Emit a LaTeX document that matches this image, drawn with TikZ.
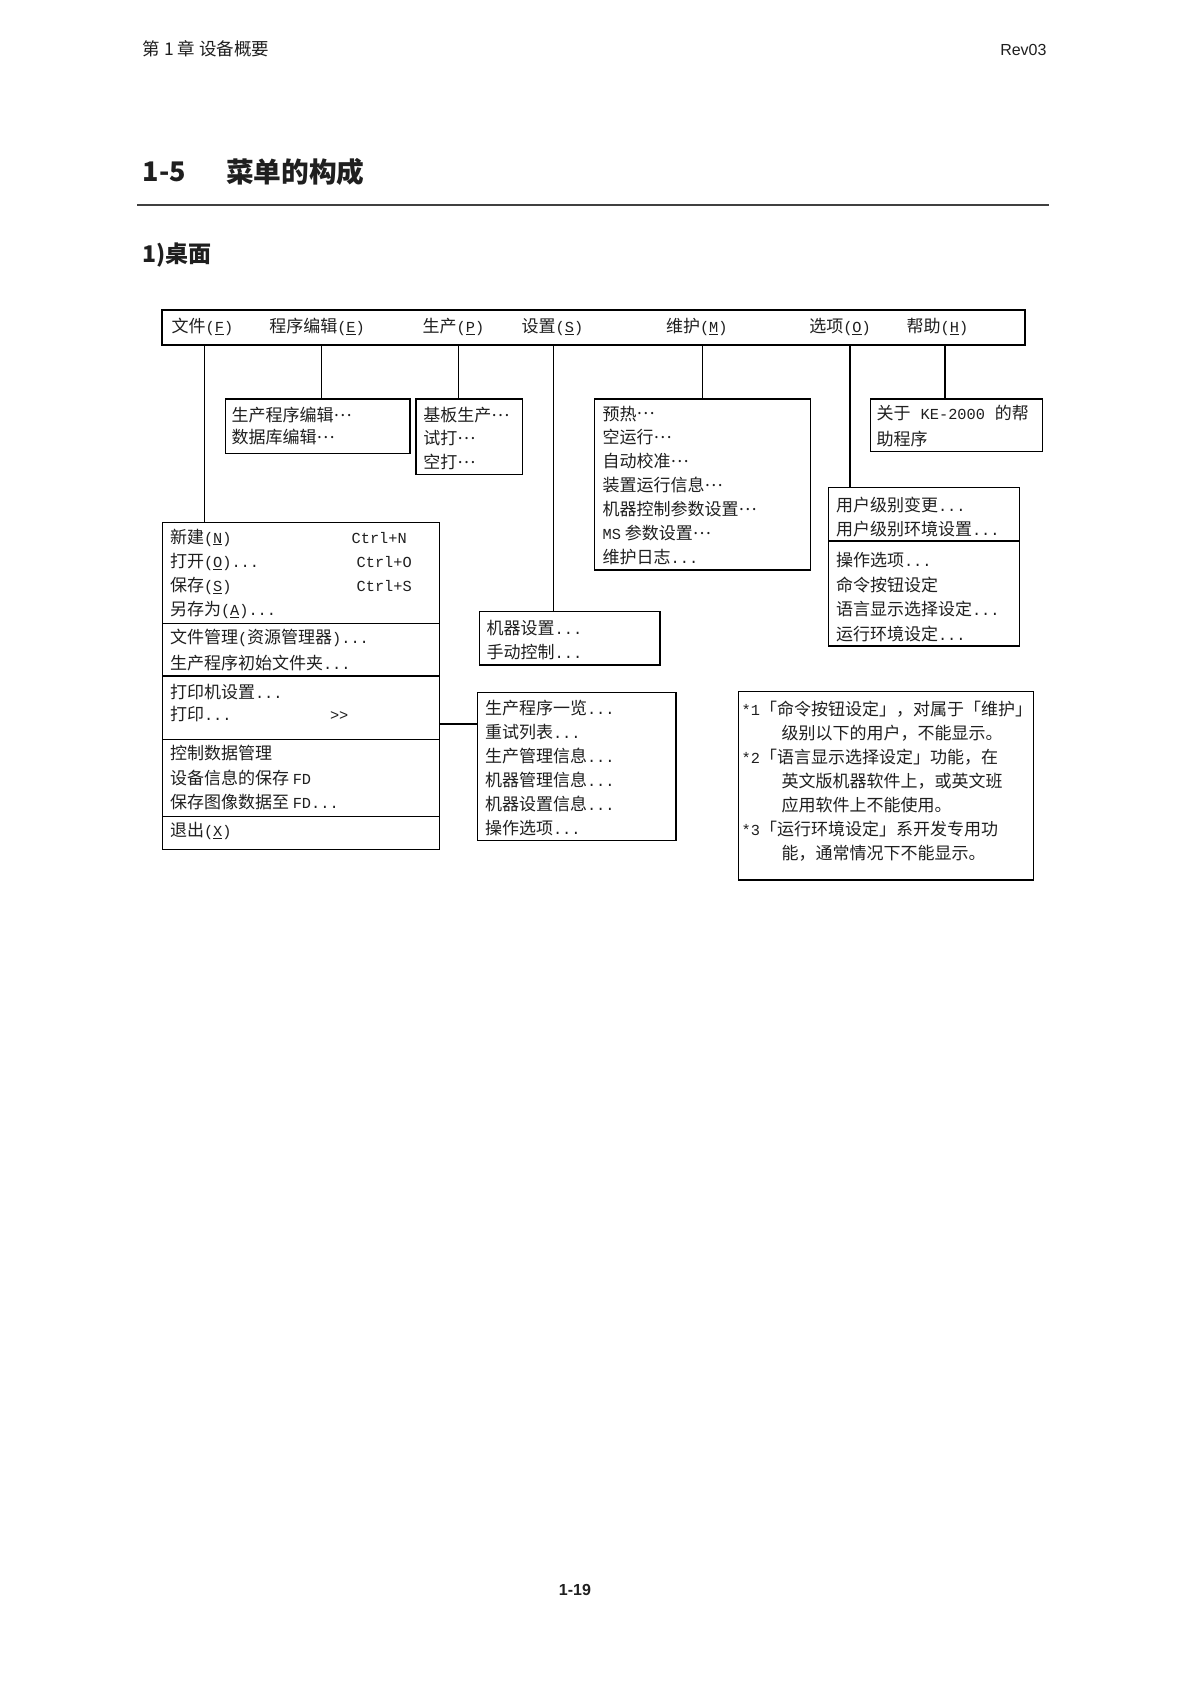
\documentclass[tikz,border=0pt]{standalone}
\usepackage{fontspec}
\setmainfont{Noto Sans CJK SC}
\newfontfamily\lat{Liberation Mono}[Scale=0.9]
\newfontfamily\hsans{Liberation Sans}
\newcommand\mydots{{\lat...}}
\newcommand\mell{\raisebox{0.3em}{…}}
\newcommand\mk[1]{{\lat(\underline{#1})}}
\begin{document}
\begin{tikzpicture}[x=1pt,y=-1pt,
  every node/.style={inner sep=0pt, outer sep=0pt},
  boxst/.style={draw=black, line width=1.3pt, anchor=north west},
  item/.style={anchor=west, font=\fontsize{17}{20}\selectfont, text height=15pt, text depth=2pt, text=black!88},
  conn/.style={draw=black, line width=1.3pt},
  divl/.style={draw=black, line width=1.3pt},
  hdr/.style={anchor=west, text=black!88},
]
\useasboundingbox[fill=white] (0,0) rectangle (1188,1681);

% ---------- page header ----------
\node[hdr, font=\fontsize{17.5}{20}\selectfont, text height=15pt, text depth=2pt] (hdrL) at (142.6,49.3) {第 1 章 设备概要};
\node[hdr, anchor=east, font=\hsans\fontsize{16}{20}\selectfont, text height=11.5pt, text depth=0pt] (hdrR) at (1046.5,49.3) {Rev03};
\node[hdr, font=\bfseries\fontsize{27}{30}\selectfont, text height=20pt, text depth=0pt] (ttlA) at (142.6,171.5) {1-5};
\node[hdr, font=\bfseries\fontsize{27.7}{30}\selectfont, text height=24pt, text depth=3pt] (ttlB) at (226,171.5) {菜单的构成};
\draw[line width=2.2pt, black!75] (137,204.8) -- (1048.6,204.8);
\node[hdr, font=\bfseries\fontsize{23}{26}\selectfont, text height=20pt, text depth=3pt] (sub) at (142.6,254) {1)桌面};
\node[font=\hsans\bfseries\fontsize{16}{20}\selectfont, text=black!88] (pg) at (575,1590) {1-19};

% ---------- menu bar ----------
\node[boxst, minimum width=863pt, minimum height=35pt] (bar) at (162,310) {};
\node[item] (mF) at (171.7,326) {文件\mk{F}};
\node[item] (mE) at (269.3,326) {程序编辑\mk{E}};
\node[item] (mP) at (422.7,326) {生产\mk{P}};
\node[item] (mS) at (521.7,326) {设置\mk{S}};
\node[item] (mM) at (666,326) {维护\mk{M}};
\node[item] (mO) at (809.3,326) {选项\mk{O}};
\node[item] (mH) at (906.7,326) {帮助\mk{H}};

% ---------- boxes ----------
\node[boxst, minimum width=184.5pt, minimum height=54.5pt] (edit) at (225.5,399) {};
\node[boxst, minimum width=106.5pt, minimum height=75.5pt] (prod) at (416,399) {};
\node[boxst, minimum width=216pt, minimum height=171pt] (maint) at (594.5,399) {};
\node[boxst, minimum width=172pt, minimum height=52.5pt] (help) at (870.5,399) {};
\node[boxst, minimum width=191pt, minimum height=158.5pt] (opt) at (828.5,487.5) {};
\node[boxst, minimum width=180.5pt, minimum height=53.3pt] (set) at (479.5,611.7) {};
\node[boxst, minimum width=277pt, minimum height=326.6pt] (file) at (162.3,522.7) {};
\node[boxst, minimum width=198.7pt, minimum height=148pt] (print) at (477.3,692.7) {};
\node[boxst, minimum width=295pt, minimum height=188.3pt] (note) at (738.3,691.7) {};

% dividers
\draw[divl] (828.5,541) -- (1019.5,541);
\foreach \yy in {623.3,676,739.3,816.7}
  \draw[divl] (162.3,\yy) -- (439.3,\yy);

% ---------- connectors ----------
\coordinate (dF) at (204.3,345);
\coordinate (dE) at (321.7,345);
\coordinate (dP) at (458.3,345);
\coordinate (dS) at (553.5,345);
\coordinate (dM) at (702.3,345);
\coordinate (dO) at (850,345);
\coordinate (dH) at (945,345);
\coordinate (pj) at (0,724);
\draw[conn] (dF) -- (dF |- file.north);
\draw[conn] (dE) -- (dE |- edit.north);
\draw[conn] (dP) -- (dP |- prod.north);
\draw[conn] (dS) -- (dS |- set.north);
\draw[conn] (dM) -- (dM |- maint.north);
\draw[conn] (dO) -- (dO |- opt.north);
\draw[conn] (dH) -- (dH |- help.north);
\draw[conn] (file.east |- pj) -- (print.west |- pj);

% ---------- box texts ----------
\foreach \t [count=\i from 0] in {{生产程序编辑\mell},{数据库编辑\mell}}
  \node[item] (ed\i) at (231.7,415+21.7*\i) {\t};
\foreach \t [count=\i from 0] in {{基板生产\mell},{试打\mell},{空打\mell}}
  \node[item] (pr\i) at (423.3,415+23.3*\i) {\t};
\foreach \t [count=\i from 0] in {{预热\mell},{空运行\mell},{自动校准\mell},{装置运行信息\mell},{机器控制参数设置\mell},{{\lat MS} 参数设置\mell},{维护日志\mydots}}
  \node[item] (mt\i) at (602.7,413.5+23.9*\i) {\t};
\node[item] (hp0) at (876.7,413.3) {关于\hspace{10pt}{\lat KE-2000}\hspace{10pt}的帮};
\node[item] (hp1) at (876.7,439.3) {助程序};
\foreach \t [count=\i from 0] in {{用户级别变更\mydots},{用户级别环境设置\mydots}}
  \node[item] (ou\i) at (836,505+24*\i) {\t};
\foreach \t [count=\i from 0] in {{操作选项\mydots},{命令按钮设定},{语言显示选择设定\mydots},{运行环境设定\mydots}}
  \node[item] (ol\i) at (836,560+24.6*\i) {\t};
\foreach \t [count=\i from 0] in {{机器设置\mydots},{手动控制\mydots}}
  \node[item] (st\i) at (486.7,628.3+23.4*\i) {\t};
\foreach \t [count=\i from 0] in {{生产程序一览\mydots},{重试列表\mydots},{生产管理信息\mydots},{机器管理信息\mydots},{机器设置信息\mydots},{操作选项\mydots}}
  \node[item] (pt\i) at (485,708+24.06*\i) {\t};

% file menu
\node[item] (f1) at (170,536.7) {新建\mk{N}};
\node[item] (f1k) at (351.7,536.7) {\lat Ctrl+N};
\node[item] (f2) at (170,561) {打开\mk{O}\mydots};
\node[item] (f2k) at (356.7,561) {\lat Ctrl+O};
\node[item] (f3) at (170,585) {保存\mk{S}};
\node[item] (f3k) at (356.7,585) {\lat Ctrl+S};
\node[item] (f4) at (170,609) {另存为\mk{A}\mydots};
\node[item] (f5) at (170,637) {文件管理{\lat(}资源管理器{\lat)}\mydots};
\node[item] (f6) at (170,662.7) {生产程序初始文件夹\mydots};
\node[item] (f7) at (170,691.7) {打印机设置\mydots};
\node[item] (f8) at (170,714) {打印\mydots};
\node[item] (f8k) at (330,714) {\lat >>};
\node[item] (f9) at (170,753.3) {控制数据管理};
\node[item] (f10) at (170,777.7) {设备信息的保存 {\lat FD}};
\node[item] (f11) at (170,801.7) {保存图像数据至 {\lat FD...}};
\node[item] (f12) at (170,830) {退出\mk{X}};

% notes
\node[item] (n1) at (741.7,709) {{\lat*1}「命令按钮设定」，对属于「维护」};
\node[item] (n2) at (781.7,733) {级别以下的用户，不能显示。};
\node[item] (n3) at (741.7,757.1) {{\lat*2}「语言显示选择设定」功能，在};
\node[item] (n4) at (781.7,781.2) {英文版机器软件上，或英文班};
\node[item] (n5) at (781.7,805.2) {应用软件上不能使用。};
\node[item] (n6) at (741.7,829.3) {{\lat*3}「运行环境设定」系开发专用功};
\node[item] (n7) at (781.7,853.3) {能，通常情况下不能显示。};
\end{tikzpicture}
\end{document}
